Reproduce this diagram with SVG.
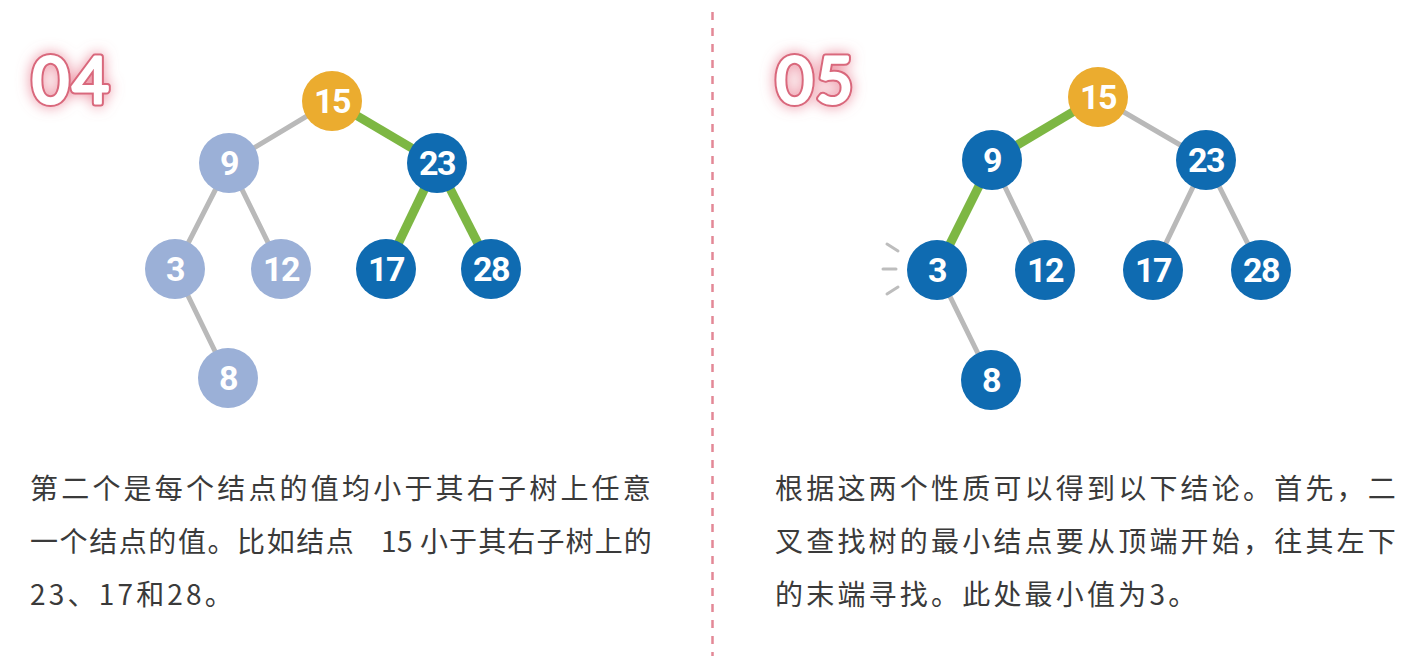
<svg xmlns="http://www.w3.org/2000/svg" width="1418" height="656" viewBox="0 0 1418 656">
<defs>
<filter id="glow" x="-40%" y="-40%" width="180%" height="180%">
<feGaussianBlur in="SourceAlpha" stdDeviation="7" result="b"/>
<feFlood flood-color="#e8788c" flood-opacity="0.8"/>
<feComposite in2="b" operator="in" result="g"/>
<feMerge><feMergeNode in="g"/><feMergeNode in="SourceGraphic"/></feMerge>
</filter>
</defs>
<style>
.e{stroke:#b9b9b9;stroke-width:5;fill:none;stroke-linecap:round}
.g{stroke:#7db743;stroke-width:9;fill:none}
.o{fill:#ebac2f}
.b{fill:#0f6bb1}
.l{fill:#9bb0d7}
.n{font-family:Roboto,"Liberation Sans",sans-serif;font-weight:700;font-size:34px;fill:#fff;text-anchor:middle;letter-spacing:-1.5px}
.t{font-family:"Noto Sans CJK SC","Noto Sans",sans-serif;font-size:28px;fill:#3a3a3a;letter-spacing:3.2px}
.h1{font-family:Lato,"Open Sans",sans-serif;font-weight:400;font-size:64px;fill:#fff;stroke:#d9677b;stroke-width:7;stroke-linejoin:round;letter-spacing:3px}
.h2{font-family:Lato,"Open Sans",sans-serif;font-weight:400;font-size:64px;fill:#fff;stroke:#fff;stroke-width:3;stroke-linejoin:round;letter-spacing:3px}
.s{stroke:#bdbdbd;stroke-width:3;stroke-linecap:round}
</style>
<rect width="1418" height="656" fill="#fff"/>
<line x1="712.5" y1="12" x2="712.5" y2="656" stroke="#e38896" stroke-width="2.5" stroke-dasharray="8,8"/>
<g id="label-04" filter="url(#glow)"><text class="h1" x="32" y="103">04</text><text class="h2" x="32" y="103">04</text></g>
<g id="label-05" filter="url(#glow)"><text class="h1" x="776" y="103">05</text><text class="h2" x="776" y="103">05</text></g>
<g id="connectors">
<line class="e" x1="332" y1="101" x2="229" y2="163"/>
<line class="g" x1="332" y1="101" x2="437" y2="163"/>
<line class="e" x1="229" y1="163" x2="175" y2="269"/>
<line class="e" x1="229" y1="163" x2="281" y2="269"/>
<line class="g" x1="437" y1="163" x2="386" y2="269"/>
<line class="g" x1="437" y1="163" x2="491" y2="269"/>
<line class="e" x1="175" y1="269" x2="228" y2="378"/>
<line class="g" x1="1098" y1="97" x2="992" y2="160"/>
<line class="e" x1="1098" y1="97" x2="1206" y2="160"/>
<line class="g" x1="992" y1="160" x2="937" y2="270"/>
<line class="e" x1="992" y1="160" x2="1045" y2="270"/>
<line class="e" x1="1206" y1="160" x2="1153" y2="270"/>
<line class="e" x1="1206" y1="160" x2="1261" y2="270"/>
<line class="e" x1="937" y1="270" x2="991" y2="380"/>
</g>
<g id="L15"><circle class="o" cx="332" cy="101" r="30"/><text class="n" x="332" y="113">15</text></g>
<g id="L9"><circle class="l" cx="229" cy="163" r="30"/><text class="n" x="229" y="175">9</text></g>
<g id="L23"><circle class="b" cx="437" cy="163" r="30"/><text class="n" x="437" y="175">23</text></g>
<g id="L3"><circle class="l" cx="175" cy="269" r="30"/><text class="n" x="175" y="281">3</text></g>
<g id="L12"><circle class="l" cx="281" cy="269" r="30"/><text class="n" x="281" y="281">12</text></g>
<g id="L17"><circle class="b" cx="386" cy="269" r="30"/><text class="n" x="386" y="281">17</text></g>
<g id="L28"><circle class="b" cx="491" cy="269" r="30"/><text class="n" x="491" y="281">28</text></g>
<g id="L8"><circle class="l" cx="228" cy="378" r="30"/><text class="n" x="228" y="390">8</text></g>
<g id="R15"><circle class="o" cx="1098" cy="97" r="30"/><text class="n" x="1098" y="109">15</text></g>
<g id="R9"><circle class="b" cx="992" cy="160" r="30"/><text class="n" x="992" y="172">9</text></g>
<g id="R23"><circle class="b" cx="1206" cy="160" r="30"/><text class="n" x="1206" y="172">23</text></g>
<g id="R3"><circle class="b" cx="937" cy="270" r="30"/><text class="n" x="937" y="282">3</text>
<line class="s" x1="887" y1="244" x2="898" y2="251"/><line class="s" x1="883" y1="269" x2="896" y2="269"/><line class="s" x1="887" y1="294" x2="898" y2="287"/></g>
<g id="R12"><circle class="b" cx="1045" cy="270" r="30"/><text class="n" x="1045" y="282">12</text></g>
<g id="R17"><circle class="b" cx="1153" cy="270" r="30"/><text class="n" x="1153" y="282">17</text></g>
<g id="R28"><circle class="b" cx="1261" cy="270" r="30"/><text class="n" x="1261" y="282">28</text></g>
<g id="R8"><circle class="b" cx="991" cy="380" r="30"/><text class="n" x="991" y="392">8</text></g>
<g id="text-left">
<text class="t" x="30" y="499" textLength="624" lengthAdjust="spacing">第二个是每个结点的值均小于其右子树上任意</text>
<text class="t" y="552"><tspan x="30" textLength="327" lengthAdjust="spacing">一个结点的值。比如结点</tspan><tspan x="381" style="letter-spacing:0.5px">15</tspan><tspan x="420" textLength="235" lengthAdjust="spacing">小于其右子树上的</tspan></text>
<text class="t" x="30" y="605">23、17和28。</text>
</g>
<g id="text-right">
<text class="t" x="775" y="499" textLength="624" lengthAdjust="spacing">根据这两个性质可以得到以下结论。首先，二</text>
<text class="t" x="775" y="552" textLength="624" lengthAdjust="spacing">叉查找树的最小结点要从顶端开始，往其左下</text>
<text class="t" x="775" y="605">的末端寻找。此处最小值为3。</text>
</g>
</svg>
